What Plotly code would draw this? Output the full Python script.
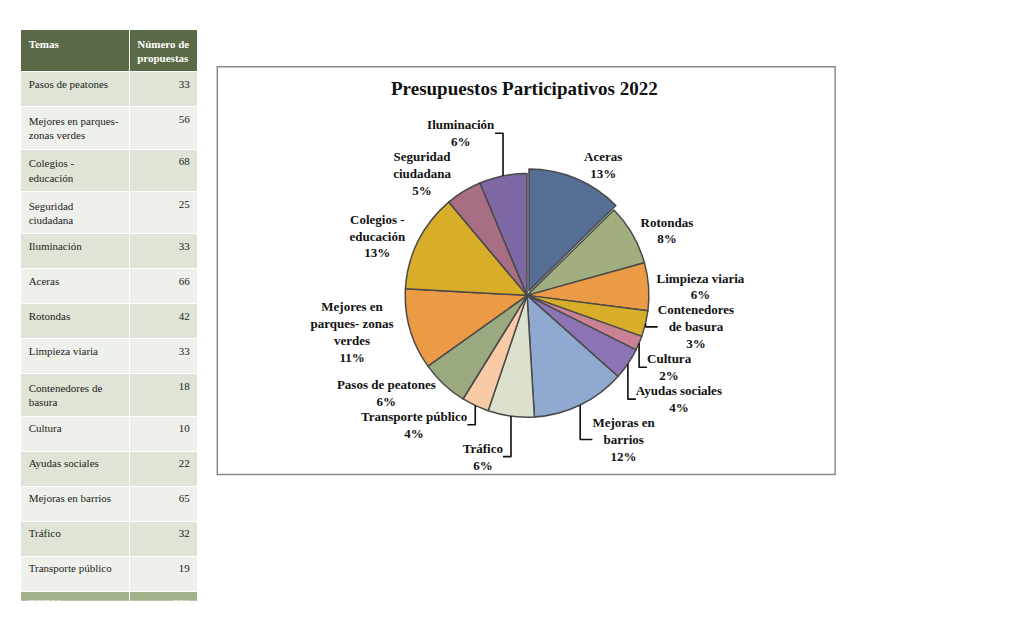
import plotly.graph_objects as go

temas = ["Pasos de peatones", "Mejores en parques-<br>zonas verdes", "Colegios - educación",
         "Seguridad ciudadana", "Iluminación", "Aceras", "Rotondas", "Limpieza viaria",
         "Contenedores de<br>basura", "Cultura", "Ayudas sociales", "Mejoras en barrios",
         "Tráfico", "Transporte público"]
propuestas = [33, 56, 68, 25, 33, 66, 42, 33, 18, 10, 22, 65, 32, 19]
total = 522

pie_labels = ["Aceras", "Rotondas", "Limpieza viaria", "Contenedores<br>de basura", "Cultura",
              "Ayudas sociales", "Mejoras en<br>barrios", "Tráfico", "Transporte público",
              "Pasos de peatones", "Mejores en<br>parques- zonas<br>verdes", "Colegios -<br>educación",
              "Seguridad<br>ciudadana", "Iluminación"]
pie_values = [66, 42, 33, 18, 10, 22, 65, 32, 19, 33, 56, 68, 25, 33]
pie_colors = ["#546f93", "#a0ae80", "#eb9a45", "#d8ad28", "#c98294", "#8d74b4", "#8fa9d0",
              "#dbe1cc", "#f8cba6", "#9aa97f", "#eb9a45", "#d8ad28", "#a86e84", "#7d68a4"]

font = "Liberation Serif"
fig = go.Figure()

n = len(temas)
row_fill = ["#dfe5d6" if i % 2 == 0 else "#eef1ea" for i in range(n)] + ["#a3b18a"]
font_col = ["#222222"] * n + ["#ffffff"]
fig.add_trace(go.Table(
    domain=dict(x=[0.015, 0.225], y=[0.04, 0.965]),
    columnwidth=[130, 82],
    header=dict(values=["<br><b>Temas</b>", "<b>Número de<br>propuestas</b>"],
                fill_color="#5b6a46", font=dict(color="white", size=11, family=font),
                align="left", height=36, line_color="white"),
    cells=dict(values=[temas + ["TOTAL:"], [str(v) for v in propuestas] + [str(total)]],
               fill_color=[row_fill, row_fill], font=dict(color=[font_col, font_col], size=11, family=font),
               align=["left", "right"], height=35, line_color="white"),
))

fig.add_trace(go.Pie(
    labels=pie_labels, values=pie_values, sort=False, direction="clockwise", rotation=0,
    marker=dict(colors=pie_colors, line=dict(color="#4a4a4a", width=1.5)),
    texttemplate="<b>%{label}<br>%{percent:.0%}</b>", textposition="outside",
    textfont=dict(family=font, size=13, color="#111111"),
    pull=[0.04] + [0]*13,
    domain=dict(x=[0.3, 0.93], y=[0.33, 0.74]), showlegend=False,
))

fig.add_shape(type="rect", xref="paper", yref="paper", x0=0.248, x1=0.98, y0=0.245, y1=0.905,
              line=dict(color="#888888", width=1.5), layer="below")
fig.add_annotation(text="<b>Presupuestos Participativos 2022</b>", xref="paper", yref="paper",
                   x=0.612, y=0.89, showarrow=False, font=dict(family=font, size=19, color="#111111"))

fig.update_layout(width=1031, height=618, margin=dict(l=0, r=0, t=0, b=0),
                  paper_bgcolor="white")
fig.write_html("out.html")
